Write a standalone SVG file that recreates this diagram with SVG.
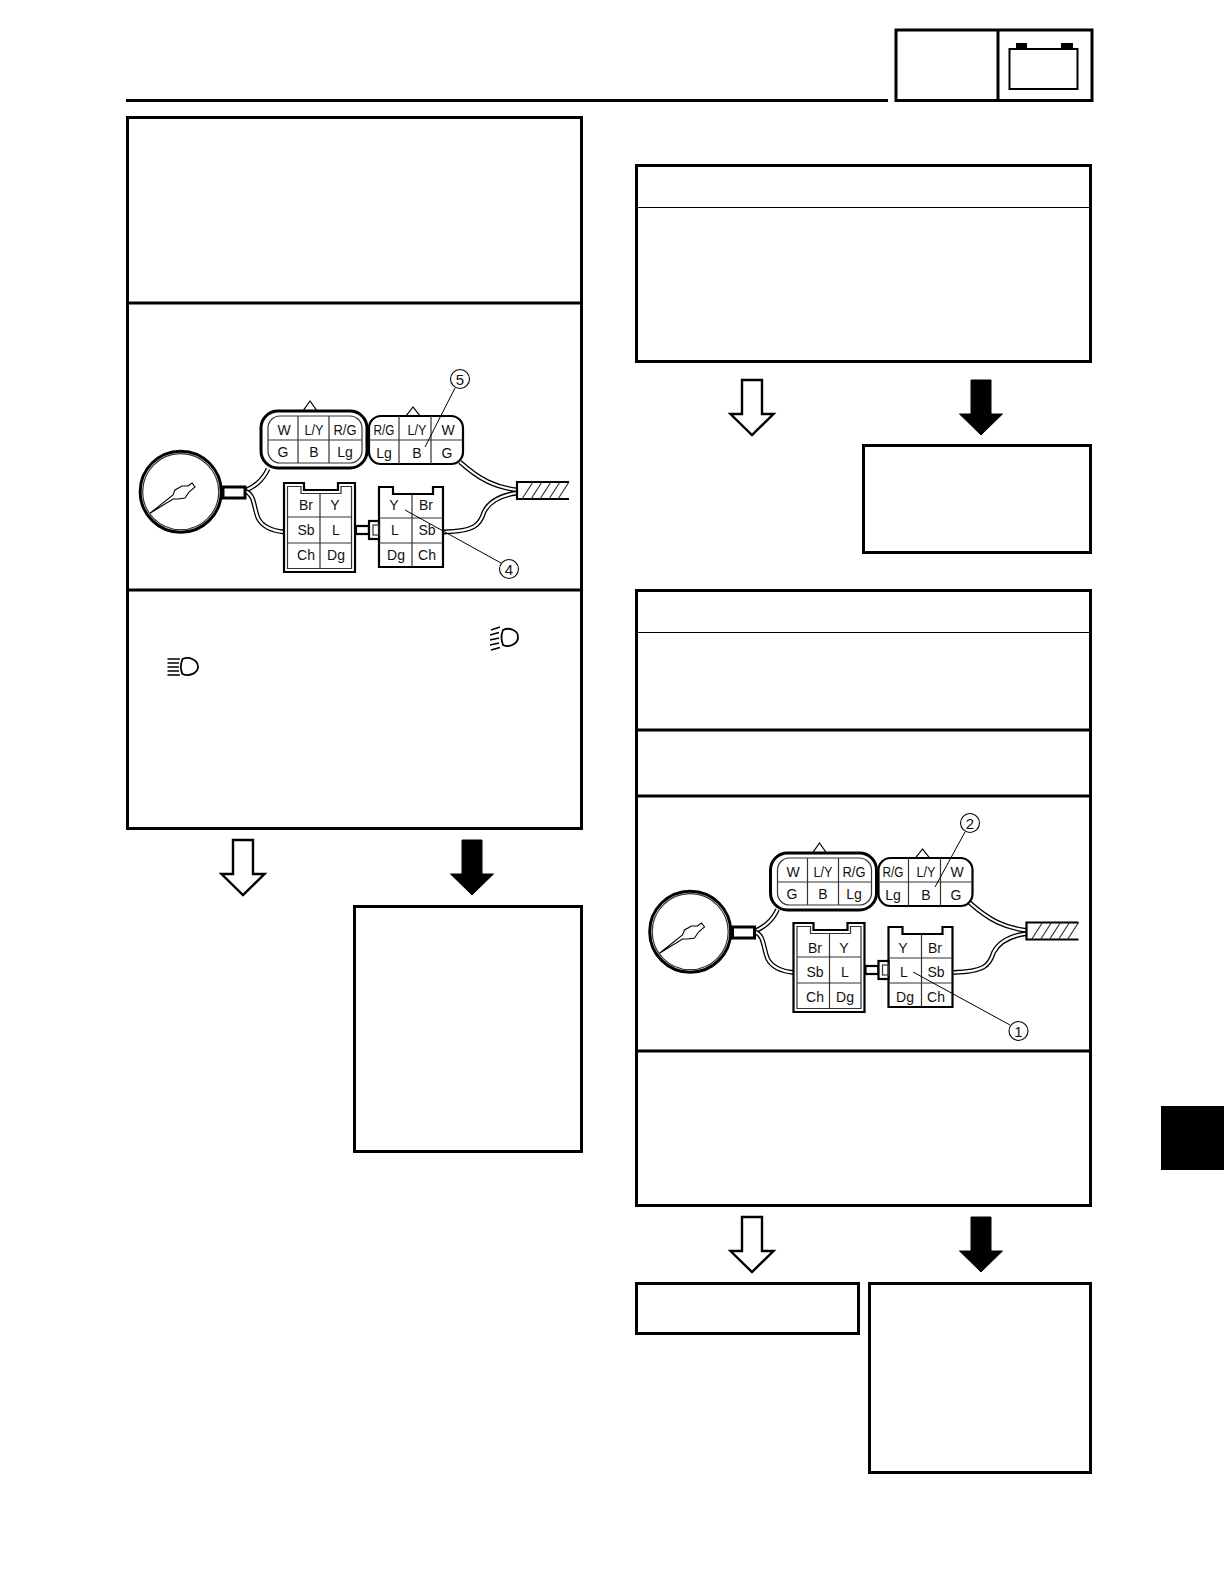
<svg xmlns="http://www.w3.org/2000/svg" width="1224" height="1584" viewBox="0 0 1224 1584">
<style>
.box{fill:#fff;stroke:#000;stroke-width:3}
.div{fill:none;stroke:#000;stroke-width:3}
.hair{fill:none;stroke:#000;stroke-width:1}
.thin{fill:none;stroke:#333;stroke-width:1.2}
.thick{fill:#fff;stroke:#000;stroke-width:3}
.med{fill:#fff;stroke:#000;stroke-width:2.2}
.wo{fill:none;stroke:#000;stroke-width:4.8}
.wi{fill:none;stroke:#fff;stroke-width:2.2}
.lead{fill:none;stroke:#000;stroke-width:1}
.ray{fill:none;stroke:#000;stroke-width:1.5}
.lamp{fill:#fff;stroke:#000;stroke-width:1.8}
text{font-family:"Liberation Sans",Arial,sans-serif;fill:#111;text-anchor:middle}
.lab{font-size:14px}
.num{font-size:15px}
.ha{fill:#fff;stroke:#000;stroke-width:2.4;stroke-linejoin:miter}
.fa{fill:#000;stroke:#000;stroke-width:1}
</style>
<defs>
<g id="gauge">
<circle cx="180.7" cy="491.7" r="40.500" class="thick"/>
<circle cx="180.7" cy="491.7" r="38" class="thin"/>
<polygon points="150,513.300 173,495 175,490 182,486 188,486 192,483 195,487 189,492 185,498 178,499 173,499" fill="#fff" stroke="#000" stroke-width="1.1"/>
<rect x="223" y="487" width="22" height="11" class="thick"/>
</g>
<g id="connA">
<polygon points="310,401 303,411 317,411" fill="#fff" stroke="#000" stroke-width="1.2"/>
<rect x="261" y="411" width="106" height="57" rx="17" class="thick"/>
<rect x="268" y="416" width="94" height="47" rx="12" class="thin"/>
<path d="M298 416V463M329 416V463M268 440H362" class="thin"/>
</g>
<g id="connB">
<polygon points="413,407 406,416 420,416" fill="#fff" stroke="#000" stroke-width="1.2"/>
<rect x="369" y="416" width="94" height="48" rx="12" class="med"/>
<path d="M399 416V464M431 416V464M369 440H463" class="thin"/>
</g>
<g id="blocks">
<path d="M284 483H304V490H338V483H355V572H284Z" class="med"/>
<path d="M287.500 486.500H301V493.500H341V486.500H351.500V568.500H287.500Z" class="thin"/>
<path d="M320 493.500V568.500M287.500 517H351.500M287.500 543H351.500" class="thin"/>
<path d="M379 487H393V494H433V487H443V567H379Z" class="med"/>
<path d="M412 494V567M379 518H443M379 543H443" class="thin"/>
<rect x="356" y="526" width="13" height="8" class="med"/>
<rect x="369" y="521" width="10" height="18" class="med"/>
<rect x="373" y="525" width="6" height="10" class="thin"/>
</g>
<g id="harness">
<path d="M245 491C253 487 262 482 268 469" class="wo"/>
<path d="M245 491C253 487 262 482 268 469" class="wi"/>
<path d="M245 491C255 495 253 505 258 518C263 528 274 531 284 532" class="wo"/>
<path d="M245 491C255 495 253 505 258 518C263 528 274 531 284 532" class="wi"/>
<path d="M460 462C480 480 495 487 517 490" class="wo"/>
<path d="M460 462C480 480 495 487 517 490" class="wi"/>
<path d="M444 532C475 531 480 525 484 512C490 500 503 495 517 493" class="wo"/>
<path d="M444 532C475 531 480 525 484 512C490 500 503 495 517 493" class="wi"/>
<path d="M569 482H517V499H569" class="med"/>
<path d="M522 499L533 482M531 499L542 482M540 499L551 482M549 499L560 482M558 499L569 482" class="thin"/>
</g>
<polygon id="arrow" points="-10,0 10,0 10,34 21.500,34 0,55 -21.500,34 -10,34"/>
</defs>

<g id="header">
<path d="M126 100.500H888" class="div"/>
<rect x="896" y="30" width="196" height="70.500" class="box"/>
<path d="M998 30V100" class="div"/>
<rect x="1009.500" y="49" width="68" height="40" fill="#fff" stroke="#000" stroke-width="2"/>
<rect x="1016" y="43" width="11" height="6" fill="#000"/>
<rect x="1061" y="43" width="12" height="6" fill="#000"/>
</g>

<g id="left-main">
<rect x="127.500" y="117.500" width="454" height="711" class="box"/>
<path d="M127 303H582M127 590H582" class="div"/>
</g>

<g id="left-diagram">
<use href="#harness"/>
<use href="#gauge"/>
<use href="#connA"/>
<use href="#connB"/>
<use href="#blocks"/>
<text class="lab" x="284" y="435">W</text><text class="lab" x="314" y="435" textLength="19" lengthAdjust="spacingAndGlyphs">L/Y</text><text class="lab" x="345" y="435" textLength="23" lengthAdjust="spacingAndGlyphs">R/G</text>
<text class="lab" x="283" y="457">G</text><text class="lab" x="314" y="457">B</text><text class="lab" x="345" y="457">Lg</text>
<text class="lab" x="384" y="435" textLength="21" lengthAdjust="spacingAndGlyphs">R/G</text><text class="lab" x="417" y="435" textLength="19" lengthAdjust="spacingAndGlyphs">L/Y</text><text class="lab" x="448" y="435">W</text>
<text class="lab" x="384" y="458">Lg</text><text class="lab" x="417" y="458">B</text><text class="lab" x="447" y="458">G</text>
<text class="lab" x="306" y="510">Br</text><text class="lab" x="335" y="510">Y</text>
<text class="lab" x="306" y="535">Sb</text><text class="lab" x="336" y="535">L</text>
<text class="lab" x="306" y="560">Ch</text><text class="lab" x="336" y="560">Dg</text>
<text class="lab" x="394" y="510">Y</text><text class="lab" x="426" y="510">Br</text>
<text class="lab" x="395" y="535">L</text><text class="lab" x="427" y="535">Sb</text>
<text class="lab" x="396" y="560">Dg</text><text class="lab" x="427" y="560">Ch</text>
<path d="M455 388L425 447M405 510L501 563" class="lead"/>
<circle cx="460" cy="379" r="9.500" fill="#fff" stroke="#000" stroke-width="1.1"/>
<text class="num" x="460" y="384.500">5</text>
<circle cx="509" cy="569" r="9.500" fill="#fff" stroke="#000" stroke-width="1.1"/>
<text class="num" x="509" y="574.500">4</text>
</g>

<g id="beam-icons">
<path d="M503 630C509 627 518 630 518 637C518 644 509 648 503 645C501 640 501 635 503 630Z" class="lamp"/>
<path d="M491 630L500 627M490 635L499 632.500M490 640L499 638M490 645L499 643M491 650L500 647.500" class="ray"/>
<path d="M182.500 659C189 656 198 660 198 667C198 673 189 677 182.500 674C180.500 670 180.500 664 182.500 659Z" class="lamp"/>
<path d="M167.500 659H180M167.500 663H179M167.500 667H179M167.500 671H179M167.500 675H180" class="ray"/>
</g>

<g id="left-arrows">
<use href="#arrow" x="243" y="840" class="ha"/>
<use href="#arrow" x="472" y="840" class="fa"/>
</g>
<g id="left-yes"><rect x="354.500" y="906.500" width="227" height="245" class="box"/></g>

<g id="right-top">
<rect x="636.500" y="165.500" width="454" height="196" class="box"/>
<path d="M636 207.500H1091" class="hair"/>
</g>
<g id="right-top-arrows">
<use href="#arrow" x="752" y="380" class="ha"/>
<use href="#arrow" x="981" y="380" class="fa"/>
</g>
<g id="right-top-yes"><rect x="863.500" y="445.500" width="227" height="107" class="box"/></g>

<g id="right-main">
<rect x="636.500" y="590.500" width="454" height="615" class="box"/>
<path d="M636 632.500H1091" class="hair"/>
<path d="M636 730H1091M636 796H1091M636 1051H1091" class="div"/>
</g>

<g id="right-diagram">
<use href="#harness" x="509.500" y="440.500"/>
<use href="#gauge" x="509.500" y="440"/>
<use href="#connA" x="509.500" y="442"/>
<use href="#connB" x="509.500" y="442"/>
<use href="#blocks" x="509.500" y="440"/>
<text class="lab" x="793" y="877">W</text><text class="lab" x="823" y="877" textLength="19" lengthAdjust="spacingAndGlyphs">L/Y</text><text class="lab" x="854" y="877" textLength="23" lengthAdjust="spacingAndGlyphs">R/G</text>
<text class="lab" x="792" y="899">G</text><text class="lab" x="823" y="899">B</text><text class="lab" x="854" y="899">Lg</text>
<text class="lab" x="893" y="877" textLength="21" lengthAdjust="spacingAndGlyphs">R/G</text><text class="lab" x="926" y="877" textLength="19" lengthAdjust="spacingAndGlyphs">L/Y</text><text class="lab" x="957" y="877">W</text>
<text class="lab" x="893" y="900">Lg</text><text class="lab" x="926" y="900">B</text><text class="lab" x="956" y="900">G</text>
<text class="lab" x="815" y="953">Br</text><text class="lab" x="844" y="953">Y</text>
<text class="lab" x="815" y="977">Sb</text><text class="lab" x="845" y="977">L</text>
<text class="lab" x="815" y="1002">Ch</text><text class="lab" x="845" y="1002">Dg</text>
<text class="lab" x="903" y="953">Y</text><text class="lab" x="935" y="953">Br</text>
<text class="lab" x="904" y="977">L</text><text class="lab" x="936" y="977">Sb</text>
<text class="lab" x="905" y="1002">Dg</text><text class="lab" x="936" y="1002">Ch</text>
<path d="M965 832L935 887M913 972L1010 1025" class="lead"/>
<circle cx="970" cy="823" r="9.500" fill="#fff" stroke="#000" stroke-width="1.1"/>
<text class="num" x="970" y="828.500">2</text>
<circle cx="1018.500" cy="1031" r="9.500" fill="#fff" stroke="#000" stroke-width="1.1"/>
<text class="num" x="1018.500" y="1036.500">1</text>
</g>

<g id="right-arrows">
<use href="#arrow" x="752" y="1217" class="ha"/>
<use href="#arrow" x="981" y="1217" class="fa"/>
</g>
<g id="right-no"><rect x="636.500" y="1283.500" width="222" height="50" class="box"/></g>
<g id="right-yes"><rect x="869.500" y="1283.500" width="221" height="189" class="box"/></g>
<g id="tab"><rect x="1161" y="1106" width="63" height="64" fill="#000"/></g>
</svg>
